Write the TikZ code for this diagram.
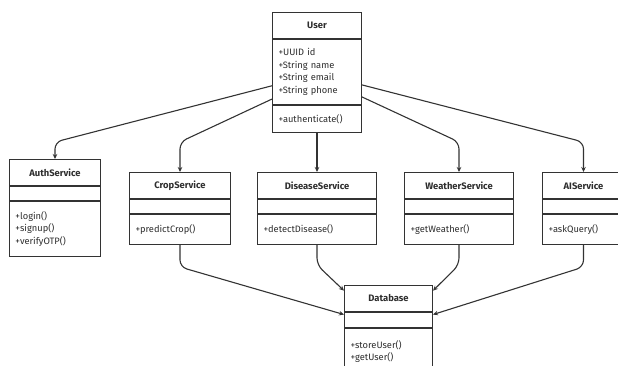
\documentclass[tikz,border=0pt]{standalone}
\usepackage{fontspec}
\setmainfont{Fira Sans}
\usetikzlibrary{arrows.meta, positioning, calc}
\definecolor{umlline}{HTML}{333333}
\definecolor{umltext}{HTML}{2E2E2E}
\tikzset{
  clshead/.style={
    rectangle, draw=umlline, line width=1pt, fill=white,
    minimum height=26pt, inner sep=0pt, anchor=north west,
    font=\fontsize{9.4}{10}\selectfont\bfseries, text=umltext
  },
  clsbody/.style={
    rectangle, draw=umlline, line width=1pt, fill=white,
    inner xsep=6pt, inner ysep=0pt, align=left, anchor=north,
    font=\fontsize{9.3}{12.7}\selectfont, text=umltext
  },
  umlarrow/.style={-{Stealth[length=5pt,width=4.5pt]}, line width=1.1pt,
    draw=umlline, rounded corners=7pt},
}

\begin{document}
\begin{tikzpicture}[x=1pt, y=-1pt]
      \useasboundingbox (0,0) rectangle (618,365);

      % User
      \node[clshead, minimum width=89pt] (user) at (272,12) {User};
      \node[clsbody, text width=77pt, minimum height=65pt] (user-attr) at (user.south)
           {+UUID id\\+String name\\+String email\\+String phone};
      \node[clsbody, text width=77pt, minimum height=27pt] (user-meth) at (user-attr.south)
           {+authenticate()};

      % services
      \node[clshead, minimum width=91pt] (auth) at (9,159) {AuthService};
      \node[clsbody, text width=79pt, minimum height=14pt] (auth-attr) at (auth.south) {};
      \node[clsbody, text width=79pt, minimum height=55pt] (auth-meth) at (auth-attr.south)
           {+login()\\+signup()\\+verifyOTP()};

      \node[clshead, minimum width=101pt] (crop) at (129,172) {CropService};
      \node[clsbody, text width=89pt, minimum height=14pt] (crop-attr) at (crop.south) {};
      \node[clsbody, text width=89pt, minimum height=30pt] (crop-meth) at (crop-attr.south)
           {+predictCrop()};

      \node[clshead, minimum width=119pt] (disease) at (257,172) {DiseaseService};
      \node[clsbody, text width=107pt, minimum height=14pt] (disease-attr) at (disease.south) {};
      \node[clsbody, text width=107pt, minimum height=30pt] (disease-meth) at (disease-attr.south)
           {+detectDisease()};

      \node[clshead, minimum width=109pt] (weather) at (404,172) {WeatherService};
      \node[clsbody, text width=97pt, minimum height=14pt] (weather-attr) at (weather.south) {};
      \node[clsbody, text width=97pt, minimum height=30pt] (weather-meth) at (weather-attr.south)
           {+getWeather()};

      \node[clshead, minimum width=82pt] (ai) at (542,172) {AIService};
      \node[clsbody, text width=70pt, minimum height=14pt] (ai-attr) at (ai.south) {};
      \node[clsbody, text width=70pt, minimum height=30pt] (ai-meth) at (ai-attr.south)
           {+askQuery()};

      % Database
      \node[clshead, minimum width=88pt] (db) at (344,285) {Database};
      \node[clsbody, text width=76pt, minimum height=15pt] (db-attr) at (db.south) {};
      \node[clsbody, text width=76pt, minimum height=46pt] (db-meth) at (db-attr.south)
           {+storeUser()\\+getUser()\\[10pt]};

      % User -> services
      \draw[umlarrow] (user-attr.197) -- (auth.north |- 0,142) -- (auth.north);
      \draw[umlarrow] (user-attr.211) -- (crop.north |- 0,142) -- (crop.north);
      \draw[umlarrow] (user-meth.south) -- (disease.north);
      \draw[umlarrow] (user-attr.331) -- (weather.north |- 0,142) -- (weather.north);
      \draw[umlarrow] (user-attr.344) -- (ai.north |- 0,142) -- (ai.north);

      % services -> Database
      \draw[umlarrow] (crop-meth.south) -- (crop-meth.south |- 0,267) -- (db-attr.173);
      \draw[umlarrow] (disease-meth.south) -- (disease-meth.south |- 0,265) -- (db.170);
      \draw[umlarrow] (weather-meth.south) -- (weather-meth.south |- 0,265) -- (db.10);
      \draw[umlarrow] (ai-meth.south) -- (ai-meth.south |- 0,267) -- (db-attr.7);
    \end{tikzpicture}
\end{document}
